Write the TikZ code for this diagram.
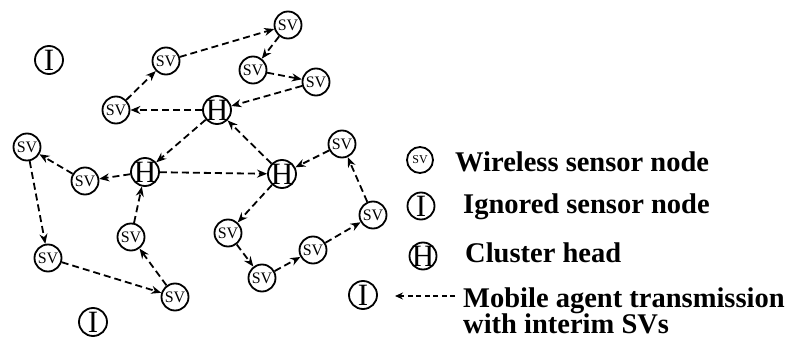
\documentclass[tikz,border=0pt]{standalone}
\usepackage{fontspec}
\setmainfont{Liberation Serif}
\usetikzlibrary{arrows.meta}

% centred capital letter that does not enlarge its circle
\newcommand\capletter[1]{\makebox[0pt]{\raisebox{-.33em}[0pt][0pt]{#1}}}

\tikzset{
  sensor/.style={circle, draw, line width=1.8pt, minimum size=27pt, inner sep=0pt,
                 font=\fontsize{16}{16}\selectfont},
  big/.style={circle, draw, line width=1.8pt, minimum size=28pt, inner sep=0pt,
              font=\fontsize{31}{31}\selectfont},
  hop/.style={line width=1.8pt, dash pattern=on 7pt off 4pt,
              -{Stealth[length=10pt,width=8pt]}},
  legtext/.style={anchor=base west, inner sep=0pt, font=\fontsize{28.5}{28.5}\selectfont\bfseries},
}

\begin{document}
\begin{tikzpicture}[x=1pt, y=-1pt]
\useasboundingbox (0,0) rectangle (788,340);

% sensor field
\node[big]    (I1) at (49,60)   {\capletter{I}};
\node[big]    (I2) at (93,322)  {\capletter{I}};
\node[big]    (I3) at (363,295) {\capletter{I}};

\node[big]    (H1) at (217,110) {\capletter{H}};
\node[big]    (H2) at (145,172) {\capletter{H}};
\node[big]    (H3) at (282,174) {\capletter{H}};

\node[sensor] (a) at (166,61)  {SV};
\node[sensor] (t) at (288,25)  {SV};
\node[sensor] (b) at (253,70)  {SV};
\node[sensor] (c) at (316,82)  {SV};
\node[sensor] (d) at (116,110) {SV};
\node[sensor] (e) at (27,147)  {SV};
\node[sensor] (f) at (85,181)  {SV};
\node[sensor] (g) at (342,144) {SV};
\node[sensor] (h) at (373,215) {SV};
\node[sensor] (i) at (228,233) {SV};
\node[sensor] (j) at (313,250) {SV};
\node[sensor] (k) at (262,278) {SV};
\node[sensor] (l) at (131,237) {SV};
\node[sensor] (m) at (48,258)  {SV};
\node[sensor] (n) at (175,297) {SV};

% agent itineraries
\draw[hop] (a) -- (t);
\draw[hop] (t) -- (b);
\draw[hop] (b) -- (c);
\draw[hop] (c) -- (H1);
\draw[hop] (H1) -- (d);
\draw[hop] (d) -- (a);
\draw[hop] (H1) -- (H2);
\draw[hop] (H3) -- (H1);
\draw[hop] (H2) -- (H3);
\draw[hop] (H2) -- (f);
\draw[hop] (f) -- (e);
\draw[hop] (e) -- (m);
\draw[hop] (m) -- (n);
\draw[hop] (n) -- (l);
\draw[hop] (l) -- (H2);
\draw[hop] (g) -- (H3);
\draw[hop] (H3) -- (i);
\draw[hop] (i) -- (k);
\draw[hop] (k) -- (j);
\draw[hop] (j) -- (h);
\draw[hop] (h) -- (g);

% legend
\node[sensor, minimum size=26pt, font=\fontsize{12}{12}\selectfont] (lsv) at (420,160) {SV};
\node[big, minimum size=27pt] (lI) at (421,206) {\capletter{I}};
\node[big, minimum size=27pt] (lH) at (423,256) {\capletter{H}};
\coordinate (arrS) at (455,296);
\coordinate (arrE) at (395,296);
\draw[line width=1.6pt, dash pattern=on 5pt off 3.5pt, -{Stealth[length=8pt,width=7pt]}] (arrS) -- (arrE);

\node[legtext] (t1) at (455,171) {Wireless sensor node};
\node[legtext] (t2) at (463,213) {Ignored sensor node};
\node[legtext] (t3) at (465,262) {Cluster head};
\node[legtext] (t4) at (463,307) {Mobile agent transmission};
\node[legtext] (t5) at (463,333) {with interim SVs};
\end{tikzpicture}
\end{document}
